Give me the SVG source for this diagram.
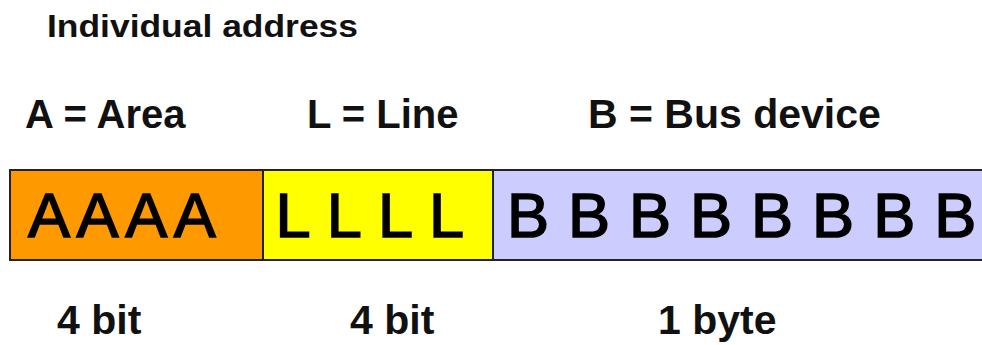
<svg xmlns="http://www.w3.org/2000/svg" width="982" height="345" viewBox="0 0 982 345">
  <style>
    .lbl { font-family: "Liberation Sans", Arial, sans-serif; font-weight: bold; fill: #111; }
    .cell { stroke: #222; stroke-width: 2; }
    .bits { font-family: "Liberation Sans", Arial, sans-serif; font-size: 63px; fill: #000; stroke: #000; stroke-width: 1.6; }
  </style>
  <rect width="982" height="345" fill="#fff"/>

  <text class="lbl" x="47" y="37" font-size="31" textLength="311" lengthAdjust="spacingAndGlyphs">Individual address</text>

  <g id="legend">
    <text class="lbl" x="25" y="128" font-size="40">A = Area</text>
    <text class="lbl" x="307" y="128" font-size="40">L = Line</text>
    <text class="lbl" x="588" y="128" font-size="41">B = Bus device</text>
  </g>

  <g id="area">
    <rect class="cell" x="10" y="170" width="253" height="90" fill="#FF9900"/>
    <text class="bits" x="28" y="237" letter-spacing="-2">A A A A</text>
  </g>
  <g id="line">
    <rect class="cell" x="263" y="170" width="230" height="90" fill="#FFFF00"/>
    <text class="bits" x="275.5" y="237" letter-spacing="0.5">L L L L</text>
  </g>
  <g id="device">
    <rect class="cell" x="493" y="170" width="500" height="90" fill="#CCCCFF"/>
    <text class="bits" x="507" y="237" letter-spacing="0.75">B B B B B B B B</text>
  </g>

  <g id="sizes">
    <text class="lbl" x="57" y="334" font-size="41">4 bit</text>
    <text class="lbl" x="350" y="334" font-size="41">4 bit</text>
    <text class="lbl" x="658" y="334" font-size="41">1 byte</text>
  </g>
</svg>
